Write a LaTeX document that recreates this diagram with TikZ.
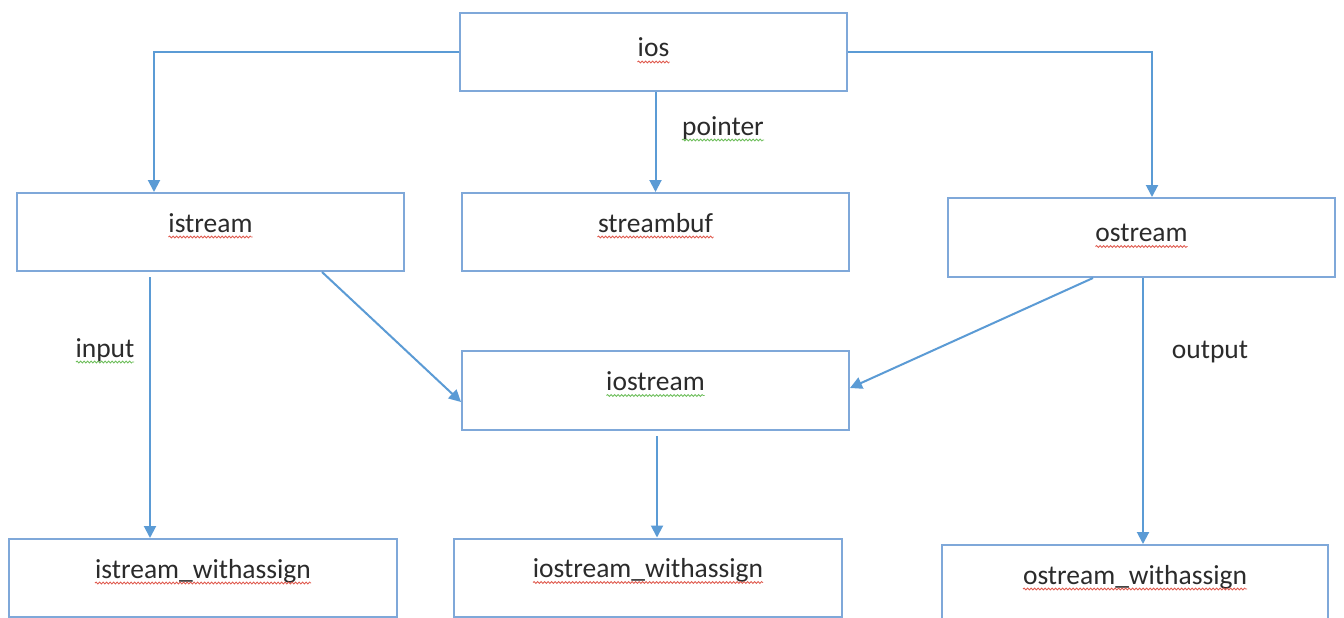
\documentclass[tikz,border=0pt]{standalone}
\usepackage{fontspec}
\setmainfont{Carlito}
\usetikzlibrary{arrows.meta,calc,decorations.pathmorphing}
\definecolor{conn}{HTML}{5B9BD5}
\definecolor{boxline}{HTML}{7FA8D9}
\definecolor{txt}{HTML}{2B2B2B}
\definecolor{sqr}{HTML}{E05A4E}
\definecolor{sqg}{HTML}{6DBE5A}
\begin{document}
\begin{tikzpicture}[x=1pt,y=-1pt,
  box/.style={draw=boxline,line width=2pt,fill=white,minimum width=387pt,minimum height=78pt,
    inner sep=0pt,text height=0pt,text depth=0pt,font=\fontsize{27.5}{30}\selectfont,text=txt},
  lbl/.style={anchor=base,inner sep=0pt,font=\fontsize{27.5}{30}\selectfont,text=txt},
  arr/.style={draw=conn,line width=2pt,-{Triangle[length=12pt,width=12pt]}},
  wav/.style={line width=0.8pt,decorate,decoration={snake,segment length=3.5pt,amplitude=1pt}},
  red wav/.style={wav,draw=sqr},
  green wav/.style={wav,draw=sqg}]
\useasboundingbox (0,0) rectangle (1344,618);
\fill[white] (0,0) rectangle (1344,618);

\node[box] (ios) at (653.5,52) {\raisebox{-5pt}{ios}};
\node[box] (istream) at (210.5,232) {istream};
\node[box] (streambuf) at (655.5,232) {streambuf};
\node[box,minimum height=79pt] (ostream) at (1141.5,237.5) {\raisebox{-4pt}{ostream}};
\node[box,minimum height=79pt] (iostream) at (655.5,390.5) {iostream};
\node[box,minimum width=388pt] (iw) at (203,578) {istream\_withassign};
\node[box,minimum width=388pt] (iow) at (648,577.5) {iostream\_withassign};
\node[box,minimum width=386pt] (ow) at (1135,584) {ostream\_withassign};

\node[lbl] (pointer) at (723,135) {pointer};
\node[lbl] (input) at (105,357) {input};
\node[lbl] (output) at (1210,358) {output};

% connectors
\draw[arr] (ios.west) -| ($(istream.north)+(-56.5,0)$);
\draw[arr] (ios.east) -| ($(ostream.north)+(10.5,0)$);
\draw[arr] (ios.south -| streambuf.north) -- (streambuf.north);
\draw[arr] ($(istream.south)+(-60.5,5)$) coordinate (a1) -- (a1 |- iw.north);
\draw[arr] ($(istream.south)+(111.5,0)$) -- ($(iostream.west)+(0,11.5)$);
\draw[arr] ($(ostream.south)+(-48.5,0)$) -- ($(iostream.east)+(0,-2.5)$);
\draw[arr] ($(ostream.south)+(1.5,0)$) coordinate (a2) -- (a2 |- ow.north);
\draw[arr] ($(iostream.south)+(1.5,5)$) coordinate (a3) -- (a3 |- iow.north);

% spell-check squiggles
\draw[red wav] ($(ios.center)+(-16,10)$) -- ++(32,0);
\draw[red wav] ($(istream.center)+(-42,5)$) -- ++(84,0);
\draw[red wav] ($(streambuf.center)+(-58,5)$) -- ++(116,0);
\draw[red wav] ($(ostream.center)+(-46,9)$) -- ++(92,0);
\draw[green wav] ($(iostream.center)+(-49,5)$) -- ++(98,0);
\draw[red wav] ($(iw.center)+(-108,5)$) -- ++(216,0);
\draw[red wav] ($(iow.center)+(-115,5)$) -- ++(230,0);
\draw[red wav] ($(ow.center)+(-112,5)$) -- ++(224,0);
\draw[green wav] ($(pointer.base)+(-41,5)$) -- ++(82,0);
\draw[green wav] ($(input.base)+(-29,5)$) -- ++(58,0);
\end{tikzpicture}
\end{document}
